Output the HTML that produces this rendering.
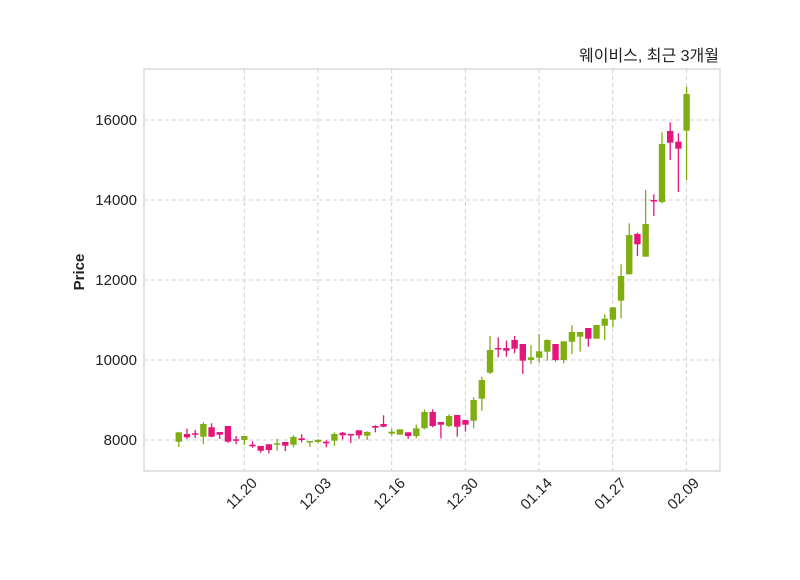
<!DOCTYPE html>
<html><head><meta charset="utf-8"><style>
html,body{margin:0;padding:0;background:#fff;}
svg text{font-family:"Liberation Sans","Noto Sans CJK KR",sans-serif;fill:#222;}
</style></head><body>
<svg id="s" width="800" height="575" xmlns="http://www.w3.org/2000/svg">
<rect x="0" y="0" width="800" height="575" fill="#fff"/>
<g stroke="#cfcfcf" stroke-width="1" stroke-dasharray="4,3">
<line x1="144" x2="720" y1="440" y2="440"/><line x1="144" x2="720" y1="360" y2="360"/>
<line x1="144" x2="720" y1="280" y2="280"/><line x1="144" x2="720" y1="200" y2="200"/>
<line x1="144" x2="720" y1="120" y2="120"/>
<line x1="244.3" x2="244.3" y1="69" y2="471"/><line x1="318" x2="318" y1="69" y2="471"/>
<line x1="391.7" x2="391.7" y1="69" y2="471"/><line x1="465.4" x2="465.4" y1="69" y2="471"/>
<line x1="539" x2="539" y1="69" y2="471"/><line x1="612.7" x2="612.7" y1="69" y2="471"/>
<line x1="686.4" x2="686.4" y1="69" y2="471"/>
</g>
<rect x="144" y="69" width="576" height="402" fill="none" stroke="#d8d8d8" stroke-width="1.5"/>
<g id="c"></g>
<g font-size="15" text-anchor="end">
<text x="137" y="445">8000</text><text x="137" y="365">10000</text>
<text x="137" y="285">12000</text><text x="137" y="205">14000</text>
<text x="137" y="125">16000</text>
</g>
<g font-size="15" text-anchor="end">
<text transform="translate(258,484) rotate(-45)">11.20</text>
<text transform="translate(332,484) rotate(-45)">12.03</text>
<text transform="translate(406,484) rotate(-45)">12.16</text>
<text transform="translate(479,484) rotate(-45)">12.30</text>
<text transform="translate(553,484) rotate(-45)">01.14</text>
<text transform="translate(627,484) rotate(-45)">01.27</text>
<text transform="translate(700,484) rotate(-45)">02.09</text>
</g>
<text transform="translate(84,272) rotate(-90)" font-size="15" font-weight="bold" text-anchor="middle">Price</text>
<text x="719" y="61" font-size="16" text-anchor="end">웨이비스, 최근 3개월</text>
</svg>
<script>
var d=[
['g',432.3,441.7,432.3,447],['p',434,437.3,428.7,439],['p',433.3,434.3,430,438],['g',424,436.7,422.3,444],
['p',427.3,436.7,423.3,437.3],['p',432,434.7,432,439],['p',426,441.7,426,442.7],['p',439.3,440.7,436,444.3],
['g',436,440,436,445],['p',444.7,446.3,441.3,447.7],['p',446,450.7,446,452.7],['p',444.3,450,444.3,453.3],
['g',443.3,444.7,438.7,450.7],['p',442,445.7,442,451],['g',437,444.7,435.3,447.3],['p',438.3,440,434.3,442.3],
['g',441,441.7,441,446.7],['g',440,442,439,443.3],['p',441.7,443.3,440.3,447.3],['g',434,440.7,432.3,446],
['p',432.7,435.3,432,439.3],['p',434,434.7,434,443],['p',430.3,435.3,430.3,438.7],['g',432,435.7,431.3,440],
['p',426,427.7,425.3,432.3],['p',424,426.7,415.3,427.3],['g',431.7,433.7,428.7,435.7],['g',429.3,434.7,429.3,434.7],
['p',432.3,436,432.3,439],['g',428.3,436,424.7,438.3],['g',412,428.3,409.3,429.3],['p',412,426,409.3,427.3],
['p',422,424.7,422,438.3],['g',416,426,414.3,427.3],['p',415,426.7,415,436.7],['p',420,424.7,420,431.7],
['g',400,420.7,397.3,428.3],['g',380,398.7,376.7,410.7],['g',350,372.7,336,374],['p',348,349,337.3,357.3],
['p',348,350.7,340.7,356.7],['p',340,348.7,336,353.3],['p',344,360.7,344,374],['g',357.3,360,345.3,364],
['g',351.3,357.7,334,362.7],['g',340,351.7,339.3,360.7],['p',344,360,344,361.3],['g',341.3,360,341.3,363.3],
['g',332,341.7,325.3,354],['g',332,336.7,332,351.7],['p',328,338.7,328,346.7],['g',325,338.7,325,338.7],
['g',318.7,325.7,314.3,340],['g',307.3,319.7,307.3,327.3],['g',276,300.7,264.3,318.3],['g',235,274.3,223.3,274.3],
['p',234,244.3,232.7,256],['g',224,256.7,190,256.7],['p',200,201.3,194.3,216],['g',144,202,132.3,203.3],
['p',131,142.7,122.3,160],['p',141.7,148.7,133.3,192],['g',94,130.7,86.7,180]];
var h='';
d.forEach(function(c,i){var x=178.8+8.19*i,col=c[0]=='g'?'#7fae12':'#e5157b';
var t=c[1],b=Math.max(c[2],c[1]+1.5);
h+='<line x1="'+x+'" x2="'+x+'" y1="'+c[3]+'" y2="'+c[4]+'" stroke="'+col+'" stroke-width="1.3"/>';
h+='<rect x="'+(x-3.2)+'" y="'+t+'" width="6.4" height="'+(b-t)+'" fill="'+col+'"/>';});
document.getElementById('c').innerHTML=h;
</script>
</body></html>
